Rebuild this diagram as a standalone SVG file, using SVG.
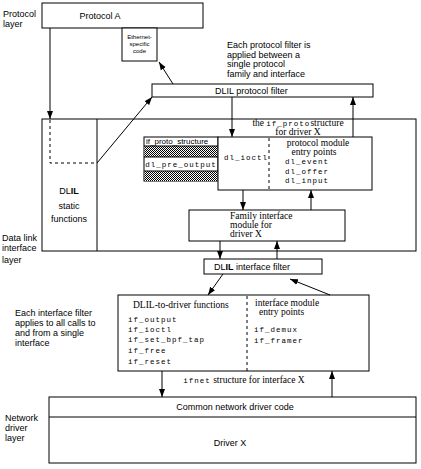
<svg xmlns="http://www.w3.org/2000/svg" width="421" height="469" viewBox="0 0 421 469">
<style>
.box{fill:#fff;stroke:#000;stroke-width:1}
.ln{fill:none;stroke:#000;stroke-width:1}
.dash{fill:none;stroke:#000;stroke-width:1;stroke-dasharray:3,3}
.s{font-family:"Liberation Sans",Arial,sans-serif;font-size:9px;fill:#000}
.sm{font-family:"Liberation Sans",Arial,sans-serif;font-size:6px;fill:#000}
.r{font-family:"Liberation Serif","Times New Roman",serif;font-size:9.5px;fill:#000}
.m{font-family:"Liberation Mono","Courier New",monospace;font-size:7.5px;fill:#000;letter-spacing:1px}
.hdr{font-family:"Liberation Sans",Arial,sans-serif;font-size:8px;fill:#000}
</style>
<defs>
<pattern id="hatch" width="2" height="2" patternUnits="userSpaceOnUse">
<rect width="2" height="2" fill="#fff"/>
<rect x="0" y="0" width="1" height="1" fill="#000"/>
<rect x="1" y="1" width="1" height="1" fill="#000"/>
</pattern>
<marker id="ah" markerUnits="userSpaceOnUse" markerWidth="8" markerHeight="8" viewBox="0 0 8 8" refX="8" refY="4" orient="auto">
<path d="M0,1 L8,4 L0,7 Z" fill="#000"/>
</marker>
</defs>

<g id="labels">
<text class="s" x="3" y="17">Protocol</text>
<text class="s" x="3" y="27">layer</text>
<text class="s" x="2" y="241">Data link</text>
<text class="s" x="2" y="251">interface</text>
<text class="s" x="2" y="263">layer</text>
<text class="s" x="5" y="421">Network</text>
<text class="s" x="5" y="431">driver</text>
<text class="s" x="5" y="441">layer</text>
<text class="s" x="227" y="48">Each protocol filter is</text>
<text class="s" x="227" y="58">applied between a</text>
<text class="s" x="227" y="67">single protocol</text>
<text class="s" x="227" y="77">family and interface</text>
<text class="s" x="15" y="316">Each interface filter</text>
<text class="s" x="15" y="326">applies to all calls to</text>
<text class="s" x="15" y="336">and from a single</text>
<text class="s" x="15" y="346">interface</text>
</g>

<g id="protocol-a">
<rect class="box" x="42" y="3" width="161" height="25"/>
<text class="s" x="100" y="19" text-anchor="middle" font-size="10">Protocol A</text>
</g>

<g id="ethernet-code">
<rect class="box" x="122" y="28" width="35" height="33"/>
<text class="sm" x="139.5" y="39" text-anchor="middle">Ethernet-</text>
<text class="sm" x="139.5" y="46" text-anchor="middle">specific</text>
<text class="sm" x="139.5" y="53" text-anchor="middle">code</text>
</g>

<g id="dlil-protocol-filter">
<rect class="box" x="152" y="84" width="221" height="13"/>
<text class="s" x="215" y="94">DLIL protocol filter</text>
</g>

<g id="dlil-static">
<rect class="box" x="42" y="119" width="374" height="132"/>
<line class="ln" x1="97" y1="119" x2="97" y2="251"/>
<text class="s" x="69" y="194" text-anchor="middle">DL<tspan font-weight="bold">IL</tspan></text>
<text class="s" x="69" y="209" text-anchor="middle">static</text>
<text class="s" x="69" y="222" text-anchor="middle">functions</text>
</g>

<g id="if-proto-structure">
<rect class="box" x="144" y="137" width="74" height="44"/>
<rect x="144.5" y="146" width="73" height="11" fill="url(#hatch)"/>
<rect x="144.5" y="171" width="73" height="10" fill="url(#hatch)"/>
<line class="ln" x1="144" y1="146" x2="218" y2="146"/>
<line class="ln" x1="144" y1="157" x2="218" y2="157"/>
<line class="ln" x1="144" y1="171" x2="218" y2="171"/>
<text class="hdr" x="146" y="144">if_proto_structure</text>
<text class="m" x="181" y="167" text-anchor="middle">dl_pre_output</text>
</g>

<g id="if-proto-driver">
<rect class="box" x="218" y="137" width="154" height="53"/>
<line class="dash" x1="269" y1="138" x2="269" y2="190"/>
<text class="r" x="298" y="126" text-anchor="middle" font-size="9">the <tspan class="m" font-size="8">if_proto</tspan>structure</text>
<text class="r" x="298" y="135" text-anchor="middle" font-size="9">for driver X</text>
<text class="m" x="224" y="160">dl_ioctl</text>
<text class="r" x="318" y="146" text-anchor="middle">protocol module</text>
<text class="r" x="314" y="155" text-anchor="middle">entry points</text>
<text class="m" x="285" y="164">dl_event</text>
<text class="m" x="285" y="174">dl_offer</text>
<text class="m" x="285" y="183">dl_input</text>
</g>

<g id="family-interface">
<rect class="box" x="189" y="210" width="156" height="31"/>
<text class="r" x="230" y="219" font-size="9">Family interface</text>
<text class="r" x="230" y="228" font-size="9">module for</text>
<text class="r" x="230" y="237" font-size="9">driver X</text>
</g>

<g id="dlil-interface-filter">
<rect class="box" x="204" y="259" width="118" height="15"/>
<text class="s" x="214" y="270">DL<tspan font-weight="bold">IL</tspan> interface filter</text>
</g>

<g id="ifnet-structure">
<rect class="box" x="118" y="295" width="251" height="76"/>
<line class="dash" x1="247" y1="296" x2="247" y2="371"/>
<text class="r" x="133" y="308" font-size="10.5">DLIL-to-driver functions</text>
<text class="m" x="128" y="322">if_output</text>
<text class="m" x="128" y="332">if_ioctl</text>
<text class="m" x="128" y="342">if_set_bpf_tap</text>
<text class="m" x="128" y="353">if_free</text>
<text class="m" x="128" y="364">if_reset</text>
<text class="r" x="255" y="306">interface module</text>
<text class="r" x="259" y="315">entry points</text>
<text class="m" x="254" y="332">if_demux</text>
<text class="m" x="254" y="343">if_framer</text>
<text class="r" x="244" y="383" text-anchor="middle"><tspan class="m" font-size="8">ifnet</tspan> structure for interface X</text>
</g>

<g id="network-driver">
<rect class="box" x="49" y="397" width="367" height="66"/>
<line class="ln" x1="49" y1="417" x2="416" y2="417"/>
<text class="s" x="235" y="410" text-anchor="middle" font-size="10">Common network driver code</text>
<text class="s" x="230" y="446" text-anchor="middle" font-size="10">Driver X</text>
</g>

<g id="connectors">
<line class="ln" x1="50" y1="28" x2="50" y2="119" marker-end="url(#ah)"/>
<polyline class="dash" points="50,120 50,163 97,163"/>
<line class="ln" x1="97" y1="163" x2="152" y2="97" marker-end="url(#ah)"/>
<line class="ln" x1="173" y1="84" x2="159" y2="62" marker-end="url(#ah)"/>
<line class="ln" x1="232" y1="97" x2="232" y2="137" marker-end="url(#ah)"/>
<line class="ln" x1="353" y1="137" x2="353" y2="97" marker-end="url(#ah)"/>
<line class="ln" x1="243" y1="190" x2="243" y2="210" marker-end="url(#ah)"/>
<line class="ln" x1="311" y1="210" x2="311" y2="190" marker-end="url(#ah)"/>
<line class="ln" x1="220" y1="241" x2="220" y2="259" marker-end="url(#ah)"/>
<line class="ln" x1="277" y1="259" x2="277" y2="241" marker-end="url(#ah)"/>
<line class="ln" x1="223" y1="274" x2="208" y2="295" marker-end="url(#ah)"/>
<line class="ln" x1="330" y1="295" x2="290" y2="279" marker-end="url(#ah)"/>
<line class="ln" x1="162" y1="371" x2="162" y2="397" marker-end="url(#ah)"/>
<line class="ln" x1="332" y1="397" x2="332" y2="371" marker-end="url(#ah)"/>
</g>
</svg>
